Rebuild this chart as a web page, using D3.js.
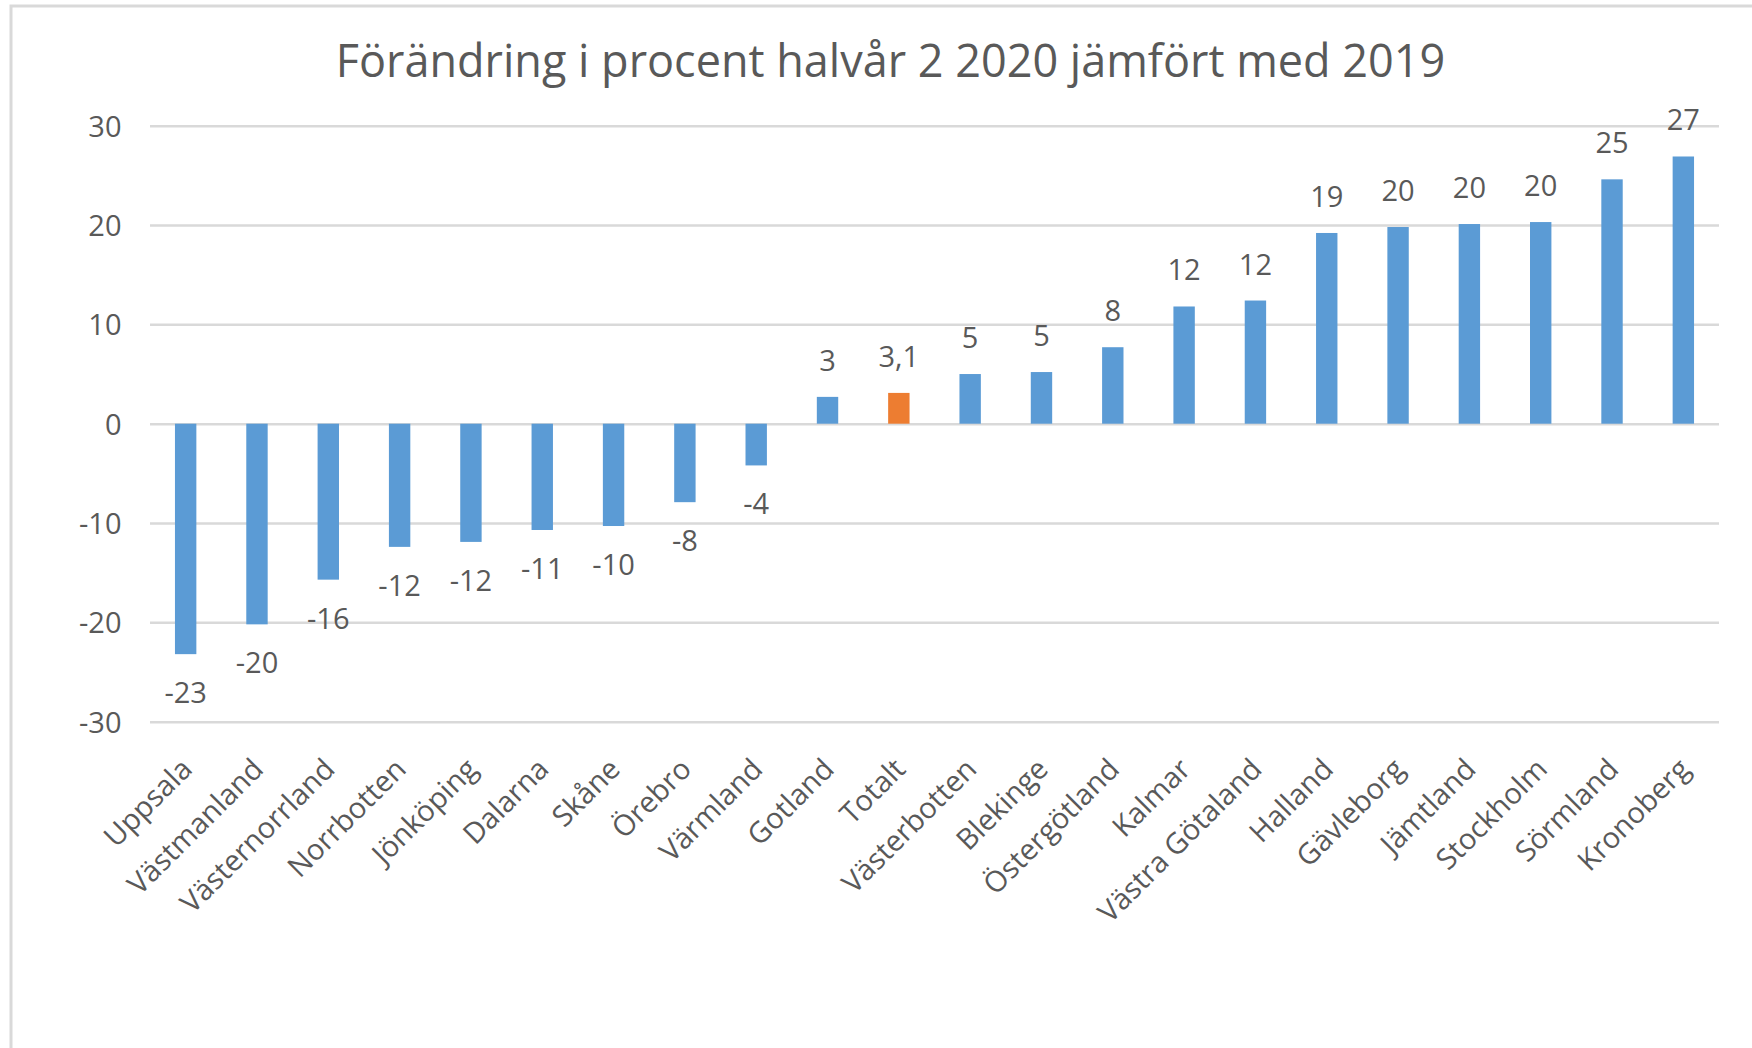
<!DOCTYPE html>
<html>
<head>
  <meta charset="utf-8">
  <style>
    body {
      margin: 0;
      padding: 0;
      background: #ffffff;
      font-family: "Open Sans", sans-serif;
    }
    #chart text {
      fill: #595959;
    }
  </style>
</head>
<body>
  <div id="chart"></div>

  <script src="https://cdnjs.cloudflare.com/ajax/libs/d3/7.8.5/d3.min.js"></script>
  <script>
    // Data
    const regions = [
      'Uppsala', 'Västmanland', 'Västernorrland', 'Norrbotten', 'Jönköping',
      'Dalarna', 'Skåne', 'Örebro', 'Värmland', 'Gotland', 'Totalt',
      'Västerbotten', 'Blekinge', 'Östergötland', 'Kalmar', 'Västra Götaland',
      'Halland', 'Gävleborg', 'Jämtland', 'Stockholm', 'Sörmland', 'Kronoberg'
    ];
    const changes = [
      -23.2, -20.2, -15.7, -12.4, -11.9,
      -10.7, -10.3, -7.9, -4.2, 2.7, 3.1,
      5.0, 5.2, 7.7, 11.8, 12.4,
      19.2, 19.8, 20.1, 20.3, 24.6, 26.9
    ];
    const valueLabels = [
      '-23', '-20', '-16', '-12', '-12',
      '-11', '-10', '-8', '-4', '3', '3,1',
      '5', '5', '8', '12', '12',
      '19', '20', '20', '20', '25', '27'
    ];
    const yTicks = [-30, -20, -10, 0, 10, 20, 30];
    const highlighted = ['Totalt'];

    const title = 'Förändring i procent halvår 2 2020 jämfört med 2019';

    function drawChart() {
      const width = 1752;
      const height = 1048;
      const plot = { left: 150, right: 1719, top: 125.7, bottom: 721.7 };

      const svg = d3.select('#chart')
        .append('svg')
        .attr('width', width)
        .attr('height', height);

      // chart frame (only the top and left edges are in view)
      svg.append('rect')
        .attr('x', 11)
        .attr('y', 6)
        .attr('width', width + 20)
        .attr('height', height + 20)
        .attr('fill', 'none')
        .attr('stroke', '#d9d9d9')
        .attr('stroke-width', 3);

      const x = d3.scaleBand()
        .domain(regions)
        .range([plot.left, plot.right])
        .paddingInner(0.7)
        .paddingOuter(0.35);

      const y = d3.scaleLinear()
        .domain([-30, 30])
        .range([plot.bottom, plot.top]);

      // y axis with gridlines
      const yAxis = svg.append('g')
        .attr('transform', `translate(${plot.left},0)`)
        .call(d3.axisLeft(y)
          .tickValues(yTicks)
          .tickFormat(d => String(d))
          .tickSize(-(plot.right - plot.left))
          .tickPadding(28.5));

      yAxis.select('.domain').remove();
      yAxis.selectAll('line')
        .attr('stroke', '#d9d9d9')
        .attr('stroke-width', 2.5);
      yAxis.selectAll('text')
        .attr('font-family', '"Open Sans", sans-serif')
        .attr('font-size', 29)
        .attr('dy', '0.36em');

      // bars
      svg.selectAll('.bar')
        .data(regions)
        .enter()
        .append('rect')
        .attr('class', 'bar')
        .attr('x', d => x(d))
        .attr('width', x.bandwidth())
        .attr('y', (d, i) => y(Math.max(0, changes[i])))
        .attr('height', (d, i) => Math.abs(y(changes[i]) - y(0)))
        .attr('fill', d => highlighted.includes(d) ? '#ed7d31' : '#5b9bd5');

      // data labels
      svg.selectAll('.value-label')
        .data(regions)
        .enter()
        .append('text')
        .attr('class', 'value-label')
        .attr('x', d => x(d) + x.bandwidth() / 2)
        .attr('y', (d, i) => changes[i] >= 0 ? y(changes[i]) - 26 : y(changes[i]) + 49)
        .attr('text-anchor', 'middle')
        .attr('font-size', 29)
        .text((d, i) => valueLabels[i]);

      // category axis, rotated labels
      const xAxis = svg.append('g')
        .attr('transform', `translate(0,${plot.bottom})`)
        .call(d3.axisBottom(x).tickSize(0));

      xAxis.select('.domain').remove();
      xAxis.selectAll('text')
        .attr('font-family', '"Open Sans", sans-serif')
        .attr('font-size', 29)
        .attr('x', 0)
        .attr('y', 0)
        .attr('dy', '0.35em')
        .attr('text-anchor', 'end')
        .attr('transform', 'translate(1,42) rotate(-45)');

      // title
      svg.append('text')
        .attr('x', 890.5)
        .attr('y', 76.7)
        .attr('text-anchor', 'middle')
        .attr('font-size', 45)
        .text(title);
    }

    drawChart();
  </script>
</body>
</html>
